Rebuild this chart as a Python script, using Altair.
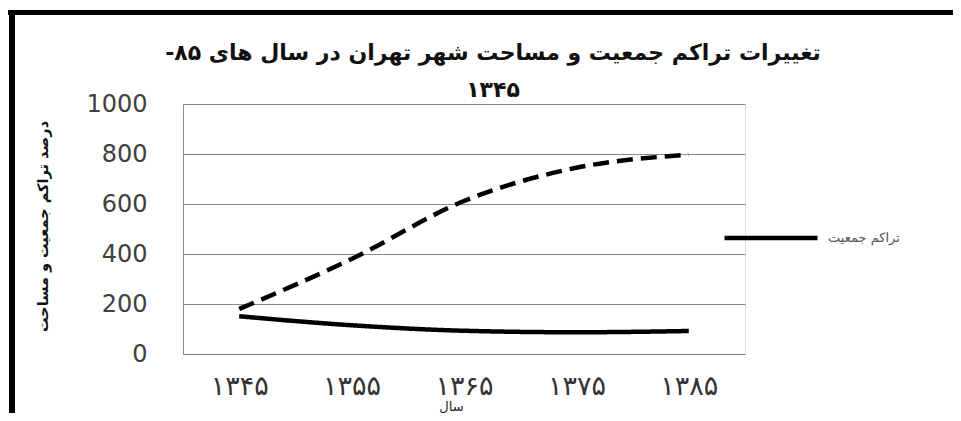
import altair as alt
import pandas as pd

years = ["۱۳۴۵", "۱۳۵۵", "۱۳۶۵", "۱۳۷۵", "۱۳۸۵"]
density = [151, 115, 93, 87, 92]
area = [180, 380, 612, 745, 797]
series_names = ["تراکم جمعیت", "مساحت"]

title_lines = ["\u200fتغییرات تراکم جمعیت و مساحت  شهر تهران در سال های ۸۵-\u200f", "۱۳۴۵"]
y_title = "درصد تراکم جمعیت و مساحت"
x_title = "سال"

rows = []
for y, d, a in zip(years, density, area):
    rows.append({"year": y, "value": d, "series": series_names[0]})
    rows.append({"year": y, "value": a, "series": series_names[1]})
df = pd.DataFrame(rows)

PERSIAN = "DejaVu Sans"

lines = alt.Chart(df).mark_line(
    color="black", strokeWidth=4.5, interpolate="monotone"
).encode(
    x=alt.X("year:N", sort=years,
            axis=alt.Axis(title=x_title, labelAngle=0, labelFont=PERSIAN, labelFontSize=27,
                          labelColor="#333333", labelPadding=32, labelBaseline="middle",
                          ticks=False, domainColor="#8a8a8a", grid=False,
                          titleFont=PERSIAN, titleFontSize=13, titleFontWeight="normal",
                          titleColor="#222222", titleX=268, titleY=52.5, titleBaseline="middle",
                          titleAlign="center")),
    y=alt.Y("value:Q", scale=alt.Scale(domain=[0, 1000]),
            axis=alt.Axis(values=[0, 200, 400, 600, 800, 1000], format="d", title=y_title,
                          labelFont="DejaVu Sans", labelFontSize=24, labelColor="#404040",
                          labelPadding=36, ticks=False, domainColor="#8a8a8a",
                          gridColor="#8a8a8a", gridWidth=1,
                          titleFont=PERSIAN, titleFontSize=14.5, titleFontWeight="bold",
                          titleColor="#111111", titleAngle=270, titleX=-140, titleY=122,
                          titleAlign="center", titleBaseline="middle")),
    strokeDash=alt.StrokeDash("series:N",
        scale=alt.Scale(domain=series_names, range=[[1, 0], [16, 8]]),
        legend=alt.Legend(values=[series_names[0]], title=None, orient="none",
                          legendX=539, legendY=85, padding=0,
                          symbolType="stroke", symbolSize=8649, symbolStrokeWidth=4.5,
                          symbolStrokeColor="black", labelFont=PERSIAN, labelFontSize=13,
                          labelColor="#555555", labelOffset=8)),
)

frame_top = alt.Chart(df).mark_rule(color="black", strokeWidth=5).encode(
    x=alt.value(-175), x2=alt.value(770), y=alt.value(-91.5))
frame_left = alt.Chart(df).mark_rule(color="black", strokeWidth=6).encode(
    x=alt.value(-171), y=alt.value(-94), y2=alt.value(320))

chart = alt.layer(frame_top, frame_left, lines).properties(
    width=562, height=250,
    title=alt.TitleParams(text=title_lines, font=PERSIAN, fontSize=22, fontWeight="bold",
                          color="#111111", anchor="middle", dx=29, dy=101, lineHeight=37, offset=6),
    autosize=alt.AutoSizeParams(type="none"),
    padding={"left": 175, "top": 96, "right": 208, "bottom": 59},
).configure_view(stroke=None).configure(background="white")

chart.save("out.html", embed_options={"renderer": "svg", "actions": False})
